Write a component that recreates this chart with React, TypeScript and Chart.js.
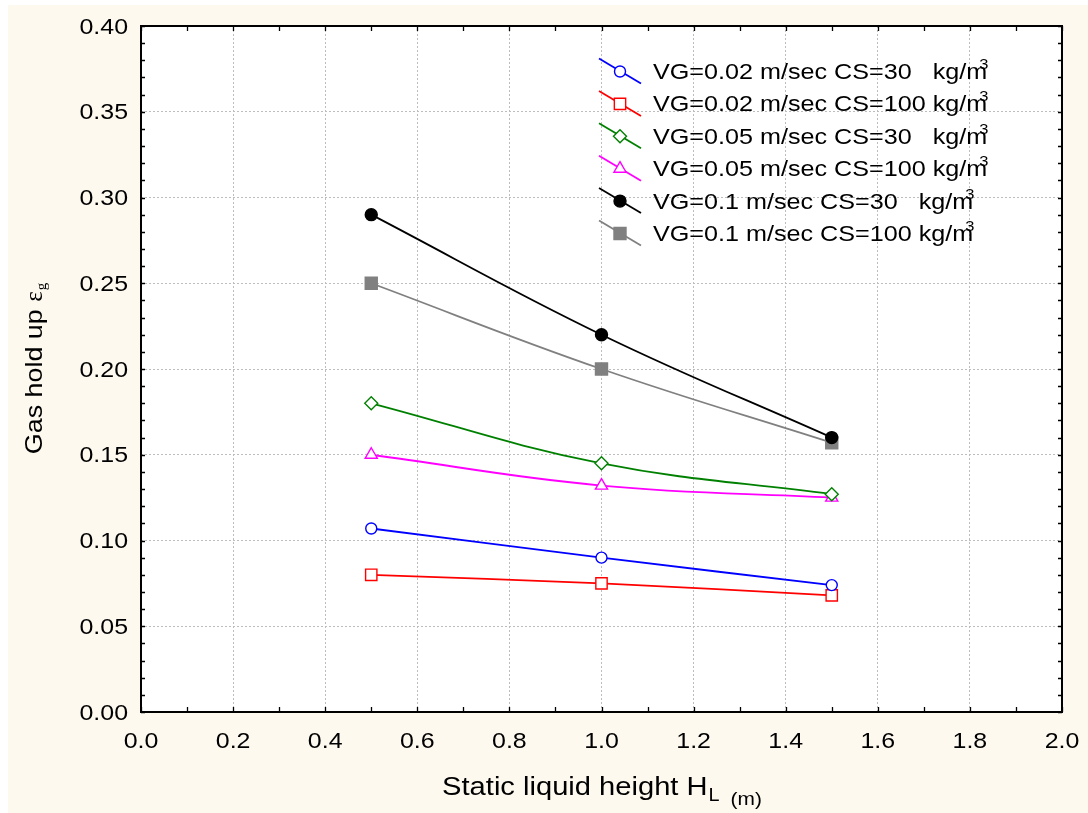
import React, { useEffect, useRef } from 'react';
import { Chart, registerables } from 'chart.js';

Chart.register(...registerables);

// ---- data ----
const liquidHeights = [0.5, 1.0, 1.5];
const vg002cs30 = [0.107, 0.090, 0.074];
const vg002cs100 = [0.080, 0.075, 0.068];
const vg005cs30 = [0.180, 0.145, 0.127];
const vg005cs100 = [0.150, 0.132, 0.125];
const vg01cs30 = [0.290, 0.220, 0.160];
const vg01cs100 = [0.250, 0.200, 0.157];

const seriesLabels = [
  'VG=0.02 m/sec CS=30   kg/m',
  'VG=0.02 m/sec CS=100 kg/m',
  'VG=0.05 m/sec CS=30   kg/m',
  'VG=0.05 m/sec CS=100 kg/m',
  'VG=0.1 m/sec CS=30   kg/m',
  'VG=0.1 m/sec CS=100 kg/m',
];
const unitSuperscript = '3';

const xTitleMain = 'Static liquid height H';
const xTitleSub = 'L';
const xTitleUnit = '(m)';
const yTitleMain = 'Gas hold up ';
const yTitleGreek = 'ε';
const yTitleSub = 'g';

const SANS = '"Liberation Sans", Arial, Helvetica, sans-serif';
const SERIF = '"Liberation Serif", "DejaVu Serif", serif';

function sText(
  ctx: CanvasRenderingContext2D,
  text: string,
  x: number,
  y: number,
  size: number,
  stretch: number,
  align: 'left' | 'right' | 'center',
  family: string = SANS
): number {
  ctx.save();
  ctx.font = `${size}px ${family}`;
  const w = ctx.measureText(text).width * stretch;
  let x0 = x;
  if (align === 'right') x0 = x - w;
  else if (align === 'center') x0 = x - w / 2;
  ctx.translate(x0, y);
  ctx.scale(stretch, 1);
  ctx.textAlign = 'left';
  ctx.textBaseline = 'alphabetic';
  ctx.fillStyle = '#000';
  ctx.fillText(text, 0, 0);
  ctx.restore();
  return w;
}

function measure(ctx: CanvasRenderingContext2D, text: string, size: number, stretch: number, family: string = SANS) {
  ctx.save();
  ctx.font = `${size}px ${family}`;
  const w = ctx.measureText(text).width * stretch;
  ctx.restore();
  return w;
}

function drawMarker(ctx: CanvasRenderingContext2D, ds: any, x: number, y: number) {
  const style = ds.pointStyle;
  const r = ds.pointRadius;
  ctx.save();
  ctx.lineWidth = ds.pointBorderWidth;
  ctx.strokeStyle = ds.pointBorderColor;
  ctx.fillStyle = ds.pointBackgroundColor;
  ctx.beginPath();
  if (style === 'circle') {
    ctx.arc(x, y, r, 0, Math.PI * 2);
  } else if (style === 'rect') {
    const s = Math.SQRT1_2 * r;
    ctx.rect(x - s, y - s, 2 * s, 2 * s);
  } else if (style === 'rectRot') {
    ctx.moveTo(x - r, y);
    ctx.lineTo(x, y - r);
    ctx.lineTo(x + r, y);
    ctx.lineTo(x, y + r);
    ctx.closePath();
  } else if (style === 'triangle') {
    ctx.moveTo(x, y - r);
    ctx.lineTo(x + Math.sin((2 * Math.PI) / 3) * r, y - Math.cos((2 * Math.PI) / 3) * r);
    ctx.lineTo(x + Math.sin((4 * Math.PI) / 3) * r, y - Math.cos((4 * Math.PI) / 3) * r);
    ctx.closePath();
  }
  ctx.fill();
  ctx.stroke();
  ctx.restore();
}

const customPlugin = {
  id: 'customDecor',
  beforeDraw(chart: any) {
    const ctx = chart.ctx as CanvasRenderingContext2D;
    const { left, top, right, bottom } = chart.chartArea;
    ctx.save();
    ctx.fillStyle = '#ffffff';
    ctx.fillRect(0, 0, chart.width, chart.height);
    ctx.fillStyle = '#fdf9ee';
    ctx.fillRect(8, 5, chart.width - 8, chart.height - 5);
    ctx.fillStyle = '#ffffff';
    ctx.fillRect(left, top, right - left, bottom - top);
    ctx.restore();
  },
  afterDatasetsDraw(chart: any) {
    const ctx = chart.ctx as CanvasRenderingContext2D;
    const { left, top, right, bottom } = chart.chartArea;
    const xs = chart.scales.x;
    const ys = chart.scales.y;
    ctx.save();
    ctx.strokeStyle = '#000';
    ctx.lineWidth = 1.3;
    ctx.beginPath();
    for (let i = 0; i <= 20; i++) {
      const px = Math.round(xs.getPixelForValue(i / 10)) + 0.5;
      ctx.moveTo(px, bottom);
      ctx.lineTo(px, bottom - 5);
      ctx.moveTo(px, top);
      ctx.lineTo(px, top + 5);
    }
    for (let i = 0; i <= 40; i++) {
      const py = Math.round(ys.getPixelForValue(i / 100)) + 0.5;
      ctx.moveTo(left, py);
      ctx.lineTo(left + 4, py);
      ctx.moveTo(right, py);
      ctx.lineTo(right - 4, py);
    }
    ctx.stroke();
    ctx.lineWidth = 2;
    ctx.strokeRect(left, top, right - left, bottom - top);
    ctx.restore();
  },
  afterDraw(chart: any) {
    const ctx = chart.ctx as CanvasRenderingContext2D;
    const { left, top, right, bottom } = chart.chartArea;
    const xs = chart.scales.x;
    const ys = chart.scales.y;

    // tick labels
    xs.ticks.forEach((t: any) => {
      const px = xs.getPixelForValue(t.value);
      sText(ctx, Number(t.value).toFixed(1), px, bottom + 36, 21.5, 1.16, 'center');
    });
    ys.ticks.forEach((t: any) => {
      const py = ys.getPixelForValue(t.value);
      sText(ctx, Number(t.value).toFixed(2), left - 13, py + 7.5, 21.5, 1.16, 'right');
    });

    // x title
    const cx = (left + right) / 2;
    const wMain = measure(ctx, xTitleMain, 26, 1.12);
    const wSub = measure(ctx, xTitleSub, 18, 1.1);
    const wUnit = measure(ctx, xTitleUnit, 19, 1.1);
    const total = wMain + wSub + 11 + wUnit;
    let tx = cx - total / 2;
    const base = 795;
    tx += sText(ctx, xTitleMain, tx, base, 26, 1.12, 'left');
    tx += sText(ctx, xTitleSub, tx + 1, base + 6, 18, 1.1, 'left');
    sText(ctx, xTitleUnit, tx + 12, base + 10, 19, 1.1, 'left');

    // y title (rotated)
    ctx.save();
    const cy = (top + bottom) / 2;
    const yw1 = measure(ctx, yTitleMain, 24, 1.12);
    const yw2 = measure(ctx, yTitleGreek, 25, 1.0, SERIF);
    const yw3 = measure(ctx, yTitleSub, 15, 1.0, SERIF);
    const ytot = yw1 + yw2 + yw3;
    ctx.translate(42, cy + ytot / 2);
    ctx.rotate(-Math.PI / 2);
    let ty = 0;
    ty += sText(ctx, yTitleMain, ty, 0, 24, 1.12, 'left');
    ty += sText(ctx, yTitleGreek, ty, 0, 25, 1.0, 'left', SERIF);
    sText(ctx, yTitleSub, ty + 1, 4, 15, 1.0, 'left', SERIF);
    ctx.restore();

    // legend
    const datasets = chart.data.datasets;
    datasets.forEach((ds: any, i: number) => {
      const ry = 71.5 + i * 32.4;
      const mx = 620;
      ctx.save();
      ctx.strokeStyle = ds.borderColor;
      ctx.lineWidth = ds.borderWidth;
      ctx.beginPath();
      ctx.moveTo(mx - 21, ry - 13);
      ctx.lineTo(mx + 21, ry + 12);
      ctx.stroke();
      ctx.restore();
      drawMarker(ctx, ds, mx, ry);
      const w = sText(ctx, ds.label, 653, ry + 7.5, 21.5, 1.17, 'left');
      sText(ctx, unitSuperscript, 653 + w - 8, ry - 2.5, 15, 1.1, 'left');
    });
  },
};

function makeDataset(label: string, values: number[], color: string, style: string, radius: number, fill: string) {
  return {
    label,
    data: liquidHeights.map((h, i) => ({ x: h, y: values[i] })),
    borderColor: color,
    backgroundColor: color,
    borderWidth: 1.8,
    pointStyle: style,
    pointRadius: radius,
    pointBorderColor: color,
    pointBackgroundColor: fill,
    pointBorderWidth: 1.4,
    tension: 0.4,
    showLine: true,
  };
}

export default function App() {
  const ref = useRef<HTMLCanvasElement>(null);
  useEffect(() => {
    const canvas = ref.current;
    if (!canvas) return;
    const chart = new Chart(canvas, {
      type: 'scatter',
      data: {
        datasets: [
          makeDataset(seriesLabels[0], vg002cs30, '#0000ff', 'circle', 5.5, '#ffffff'),
          makeDataset(seriesLabels[1], vg002cs100, '#ff0000', 'rect', 8, '#ffffff'),
          makeDataset(seriesLabels[2], vg005cs30, '#008000', 'rectRot', 6.5, '#ffffff'),
          makeDataset(seriesLabels[3], vg005cs100, '#ff00ff', 'triangle', 7, '#ffffff'),
          makeDataset(seriesLabels[4], vg01cs30, '#000000', 'circle', 6, '#000000'),
          makeDataset(seriesLabels[5], vg01cs100, '#808080', 'rect', 8.5, '#808080'),
        ] as any,
      },
      options: {
        responsive: false,
        maintainAspectRatio: false,
        devicePixelRatio: 1,
        animation: false,
        layout: { padding: { left: 0, top: 26, right: 26, bottom: 0 } },
        plugins: {
          legend: { display: false },
          tooltip: { enabled: false },
          title: { display: false },
        },
        scales: {
          x: {
            type: 'linear',
            min: 0,
            max: 2,
            ticks: { stepSize: 0.2, display: false },
            grid: { color: '#bdbdbd', lineWidth: 1, drawTicks: false },
            border: { display: false, dash: [2, 2] },
            afterFit: (scale: any) => {
              scale.height = 101;
            },
          },
          y: {
            type: 'linear',
            min: 0,
            max: 0.4,
            ticks: { stepSize: 0.05, display: false },
            grid: { color: '#bdbdbd', lineWidth: 1, drawTicks: false },
            border: { display: false, dash: [2, 2] },
            afterFit: (scale: any) => {
              scale.width = 141;
            },
          },
        },
      } as any,
      plugins: [customPlugin],
    });
    return () => chart.destroy();
  }, []);
  return (
    <canvas
      ref={ref}
      width={1088}
      height={813}
      style={{ position: 'fixed', left: 0, top: 0, width: 1088, height: 813 }}
    />
  );
}
